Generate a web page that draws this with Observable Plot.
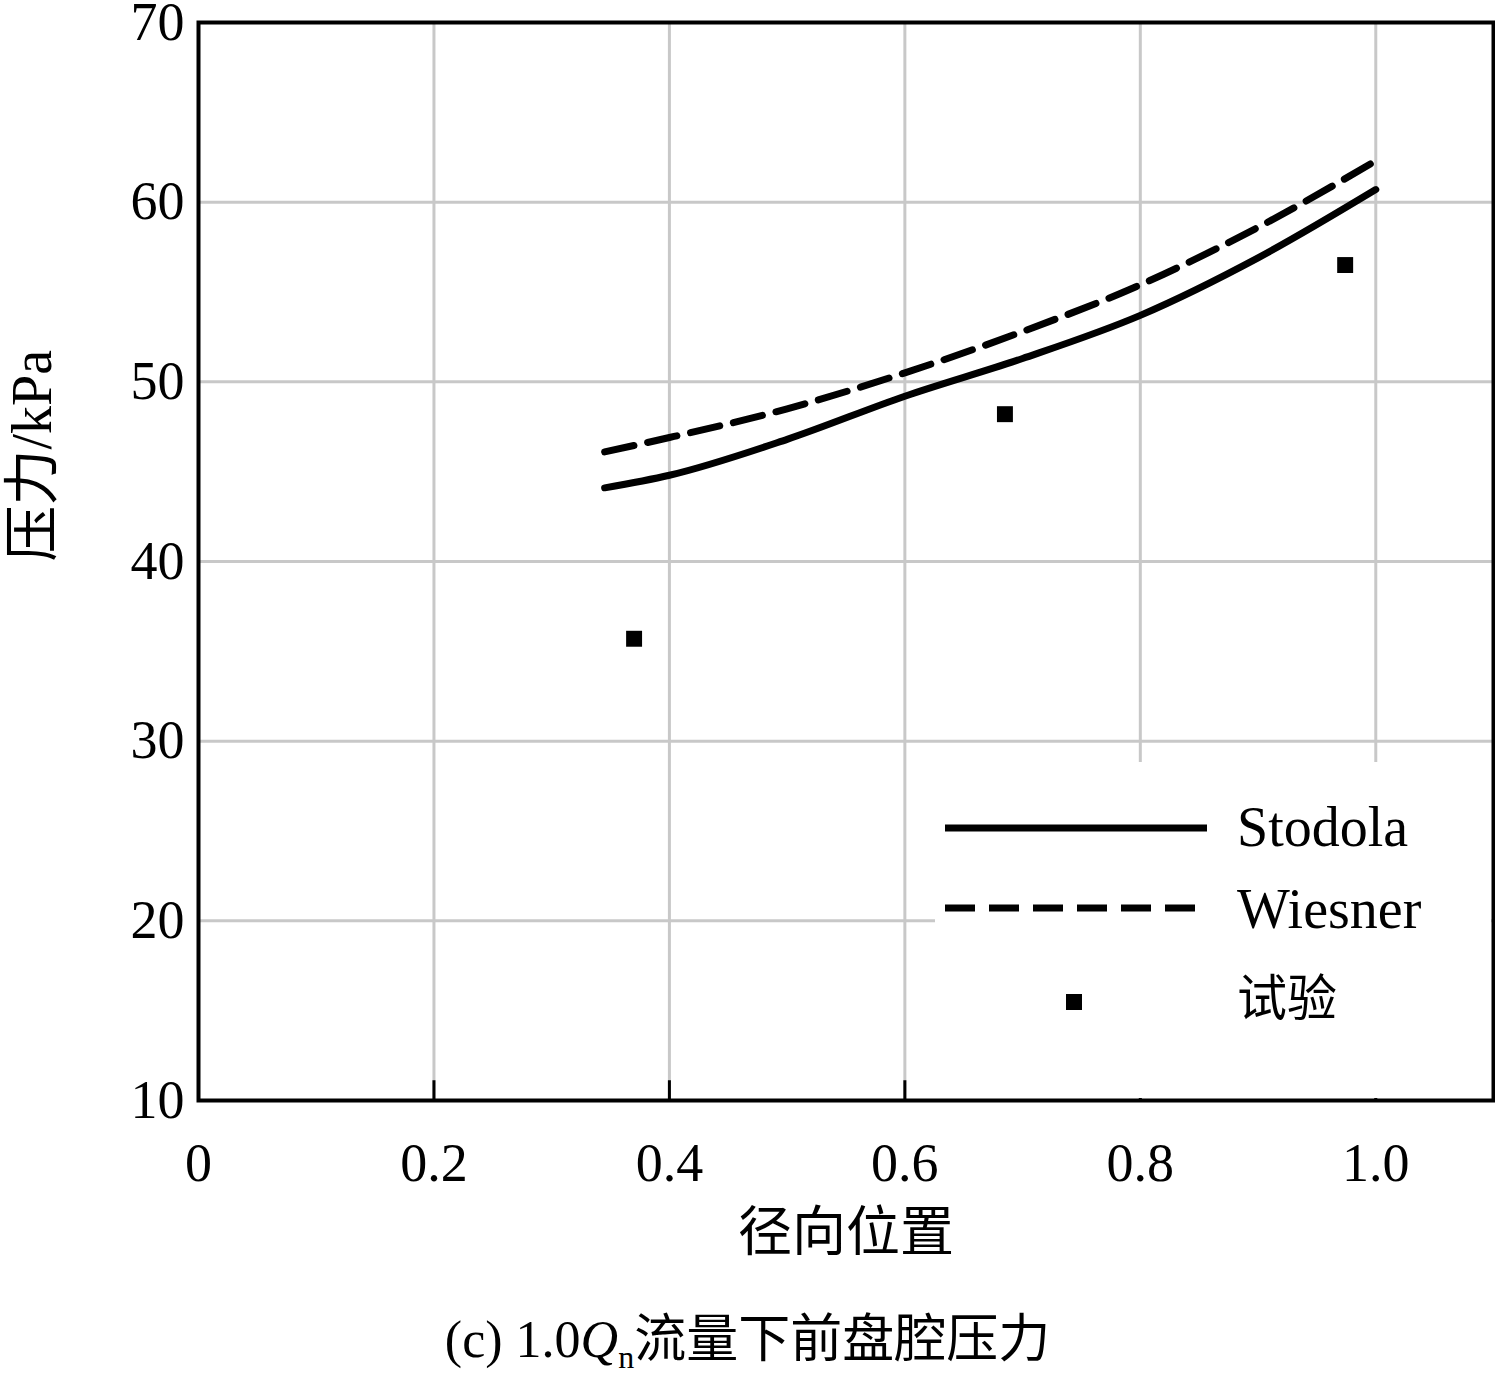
<!DOCTYPE html>
<html><head><meta charset="utf-8">
<script src="https://cdn.jsdelivr.net/npm/d3@7"></script>
<script src="https://cdn.jsdelivr.net/npm/@observablehq/plot@0.6"></script>
<style>
body{margin:0;background:#fff;font-family:"Liberation Serif","Noto Sans CJK SC",serif;}
#wrap{position:relative;width:1495px;height:1393px;}
#leg{position:absolute;left:935px;top:762px;width:556px;height:336px;background:#fff;}
#cap{position:absolute;left:0;width:1495px;top:1310px;text-align:center;font-size:52px;line-height:60px;}
</style></head><body>
<div id="wrap"><div id="chart"></div>
<div id="leg">
 <svg width="556" height="336" style="position:absolute;left:0;top:0">
  <line x1="10" y1="66" x2="272" y2="66" stroke="#000" stroke-width="7"/>
  <line x1="10" y1="146" x2="272" y2="146" stroke="#000" stroke-width="7" stroke-dasharray="30,14"/>
  <rect x="131" y="232" width="16" height="16" fill="#000"/>
  <text x="302" y="84" font-size="56" font-family="Liberation Serif">Stodola</text>
  <text x="302" y="166" font-size="56" font-family="Liberation Serif">Wiesner</text>
  <text x="302" y="254" font-size="50" font-family="Noto Sans CJK SC">试验</text>
 </svg>
</div>
<div id="cap">(c) 1.0<i>Q</i><sub style="font-size:32px">n</sub>流量下前盘腔压力</div>
</div>
<script>
const radial = [0.345, 0.4, 0.5, 0.6, 0.7, 0.8, 0.9, 1.0];
const stodola = [44.1, 44.8, 46.8, 49.2, 51.3, 53.7, 56.9, 60.7];
const wiesner = [46.1, 46.9, 48.5, 50.5, 52.8, 55.4, 58.6, 62.3];
const testX = [0.370, 0.685, 0.974];
const testY = [35.7, 48.2, 56.5];
const xTicks = [0, 0.2, 0.4, 0.6, 0.8, 1.0];
const xTickLabels = ["0", "0.2", "0.4", "0.6", "0.8", "1.0"];
const yTicks = [10, 20, 30, 40, 50, 60, 70];

const sData = radial.map((x,i)=>({x, y: stodola[i]}));
const wData = radial.map((x,i)=>({x, y: wiesner[i]}));
const tData = testX.map((x,i)=>({x, y: testY[i]}));

const chart = Plot.plot({
  width: 1495, height: 1290,
  marginLeft: 198, marginRight: 2, marginTop: 22, marginBottom: 190,
  style: {fontFamily: "Liberation Serif, Noto Sans CJK SC, serif", fontSize: "54px", color: "#000", overflow: "visible"},
  x: {domain: [0, 1.1], ticks: xTicks, tickFormat: (d,i)=>xTickLabels[i], tickSize: 0, tickPadding: 42, label: null},
  y: {domain: [10, 70], ticks: yTicks, tickSize: 0, tickPadding: 14, label: null},
  marks: [
    Plot.gridX(xTicks, {stroke: "#c8c8c8", strokeOpacity: 1, strokeWidth: 3}),
    Plot.gridY(yTicks, {stroke: "#c8c8c8", strokeOpacity: 1, strokeWidth: 3}),
    Plot.ruleX(xTicks.slice(1), {y1: 10, y2: 11.1, stroke: "#000", strokeWidth: 3}),
    Plot.line(sData, {x: "x", y: "y", curve: "monotone-x", stroke: "#000", strokeWidth: 7}),
    Plot.line(wData, {x: "x", y: "y", curve: "monotone-x", stroke: "#000", strokeWidth: 7, strokeDasharray: "30,14"}),
    Plot.dot(tData, {x: "x", y: "y", symbol: "square", r: 9, fill: "#000"}),
    Plot.frame({stroke: "#000", strokeWidth: 4}),
    Plot.text(["径向位置"], {frameAnchor: "bottom", dy: 150, fontSize: 54, fontFamily: "Noto Sans CJK SC"}),
    Plot.text(["压力/kPa"], {frameAnchor: "left", dx: -165, rotate: -90, fontSize: 56, fontFamily: "Liberation Serif, Noto Sans CJK SC"})
  ]
});
document.getElementById("chart").append(chart);
</script>
</body></html>
